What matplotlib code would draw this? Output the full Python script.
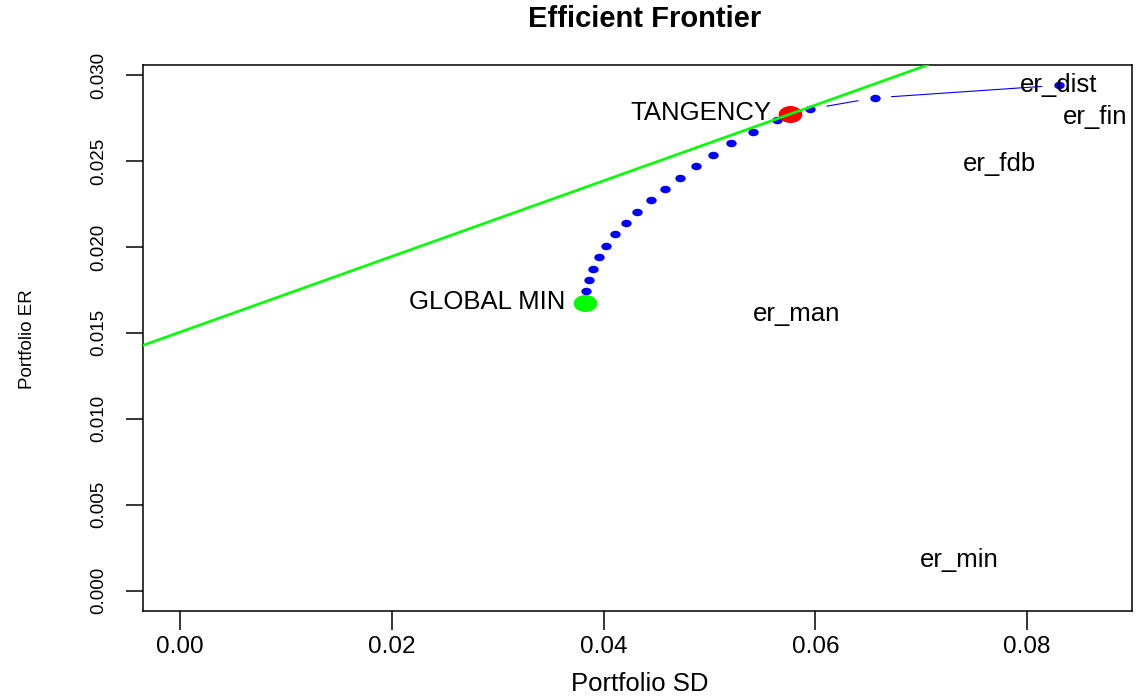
import matplotlib
matplotlib.use("Agg")
import matplotlib.pyplot as plt
import numpy as np
from matplotlib.path import Path
from matplotlib.transforms import Affine2D

# =========================
# DATA
# =========================
frontier_sd = [0.03826, 0.03836, 0.03858, 0.03898, 0.03955, 0.04023, 0.04111,
               0.04209, 0.04319, 0.04446, 0.04580, 0.04721, 0.04873, 0.05035,
               0.05208, 0.05409, 0.05634, 0.05952, 0.06560, 0.08297]
frontier_er = [0.01672, 0.01742, 0.01809, 0.01874, 0.01940, 0.02005, 0.02074,
               0.02140, 0.02205, 0.02271, 0.02338, 0.02403, 0.02470, 0.02536,
               0.02603, 0.02669, 0.02736, 0.02802, 0.02867, 0.02940]

gmin_sd, gmin_er = 0.03826, 0.01672
tan_sd, tan_er = 0.05765, 0.02773
rf = 0.01504

asset_names = ["er_dist", "er_fin", "er_fdb", "er_man", "er_min"]
asset_sd = [0.08297, 0.08645, 0.07741, 0.05820, 0.07361]
asset_er = [0.02941, 0.02757, 0.02483, 0.01608, 0.00176]

x_ticks = [0.00, 0.02, 0.04, 0.06, 0.08]
y_ticks = [0.000, 0.005, 0.010, 0.015, 0.020, 0.025, 0.030]

# =========================
# FIGURE
# =========================
plt.rcParams["font.family"] = ["Liberation Sans", "DejaVu Sans"]

W, H = 1139, 700
fig = plt.figure(figsize=(W / 100, H / 100), dpi=100, facecolor="white")
ax = fig.add_axes([143.3 / W, 1 - 611 / H, (1132 - 143.3) / W, (611 - 65) / H])
ax.set_xlim(-0.00346, 0.0899)
ax.set_ylim(-0.00118, 0.03058)

# the picture is a bit stretched sideways, so dots are ellipses
ellipse = Path.unit_circle().transformed(Affine2D().scale(1.0, 0.72))

# frontier, R type="b": points, plus lines that stop short of each point
gap = 17  # px
pts = ax.transData.transform(np.column_stack([frontier_sd, frontier_er]))
inv = ax.transData.inverted()
for p0, p1 in zip(pts[:-1], pts[1:]):
    d = p1 - p0
    dist = np.hypot(*d)
    if dist <= 2 * gap:
        continue
    u = d / dist
    seg = inv.transform(np.array([p0 + u * gap, p1 - u * gap]))
    ax.plot(seg[:, 0], seg[:, 1], color="blue", lw=0.8, zorder=2)

ax.plot(frontier_sd, frontier_er, ls="none", color="blue", marker=ellipse,
        markersize=7.5, markeredgewidth=0, zorder=2)

# special portfolios
ax.plot([gmin_sd], [gmin_er], marker=ellipse, ls="none", color="#00FF00",
        markersize=17, markeredgewidth=0, zorder=3)
ax.plot([tan_sd], [tan_er], marker=ellipse, ls="none", color="red",
        markersize=17, markeredgewidth=0, zorder=3)

ax.annotate("GLOBAL MIN", xy=(gmin_sd, gmin_er), xytext=(-14, 1),
            textcoords="offset points", ha="right", va="center", fontsize=18.5)
ax.annotate("TANGENCY", xy=(tan_sd, tan_er), xytext=(-14, 1),
            textcoords="offset points", ha="right", va="center", fontsize=18.5)

# asset labels
for name, sd, er in zip(asset_names, asset_sd, asset_er):
    ax.text(sd, er, name, ha="center", va="center", fontsize=18.5, zorder=4)

# tangency line
ax.axline((0, rf), (tan_sd, tan_er), color="#00FF00", lw=1.9, zorder=5)

# =========================
# AXES STYLE
# =========================
ax.set_xticks(x_ticks)
ax.set_xticklabels([f"{v:.2f}" for v in x_ticks], fontsize=17.5)
ax.set_yticks(y_ticks)
ax.set_yticklabels([f"{v:.3f}" for v in y_ticks], fontsize=13.5,
                   rotation=90, va="center")

ax.tick_params(axis="x", length=14, width=1.1, pad=4)
ax.tick_params(axis="y", length=12, width=1.1, pad=14)

for spine in ax.spines.values():
    spine.set_linewidth(1.1)
    spine.set_edgecolor("black")

fig.text(645 / W, 1 - 19 / H, "Efficient Frontier", ha="center", va="center",
         fontsize=21, fontweight="bold")
fig.text(640 / W, 1 - 684 / H, "Portfolio SD", ha="center", va="center",
         fontsize=18.5)
fig.text(27 / W, 1 - 339 / H, "Portfolio ER", ha="center", va="center",
         fontsize=13.5, rotation=90)

fig.savefig("out.png", dpi=100, facecolor="white")
plt.close(fig)
